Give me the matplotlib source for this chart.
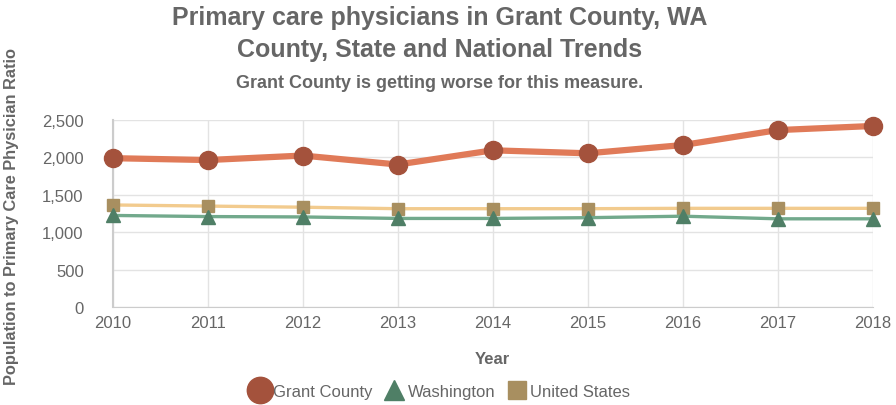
import matplotlib.pyplot as plt
from matplotlib.lines import Line2D

plt.rcParams["font.family"] = ["Liberation Sans", "DejaVu Sans"]

years = [2010, 2011, 2012, 2013, 2014, 2015, 2016, 2017, 2018]
grant = [1990, 1965, 2025, 1905, 2095, 2055, 2165, 2365, 2420]
washington = [1225, 1210, 1205, 1185, 1185, 1195, 1215, 1180, 1180]
united_states = [1365, 1350, 1335, 1315, 1315, 1315, 1320, 1320, 1320]

grey = "#666666"

fig = plt.figure(figsize=(8.96, 4.06), dpi=100)
ax = fig.add_axes([0.126, 0.241, 0.848, 0.461])

ax.plot(years, united_states, color="#F2CB8E", lw=2.4, marker="s", ms=9,
        mfc="#A88F60", mec="#A88F60", zorder=3, clip_on=False)
ax.plot(years, washington, color="#72A98C", lw=2.4, marker="^", ms=10,
        mfc="#4F7F66", mec="#4F7F66", zorder=3, clip_on=False)
ax.plot(years, grant, color="#E07A58", lw=4.5, marker="o", ms=13,
        mfc="#A4523C", mec="#A4523C", zorder=4, clip_on=False)

ax.set_xlim(2010, 2018)
ax.set_ylim(0, 2500)
ax.set_xticks(years)
ax.set_yticks([0, 500, 1000, 1500, 2000, 2500])
ax.set_yticklabels(["0", "500", "1,000", "1,500", "2,000", "2,500"])
ax.grid(True, color="#E3E3E3", lw=1)
ax.set_axisbelow(True)
for s in ["top", "right"]:
    ax.spines[s].set_visible(False)
ax.spines["left"].set_color("#CCCCCC")
ax.spines["left"].set_linewidth(1.5)
ax.spines["bottom"].set_color("#CCCCCC")
ax.tick_params(length=0, labelsize=12, labelcolor=grey)
ax.tick_params(axis="y", pad=21)
ax.tick_params(axis="x", pad=6)
ax.set_xlabel("Year", fontsize=12, fontweight="bold", color=grey)
ax.xaxis.set_label_coords(0.5, -0.235)
ax.set_ylabel("Population to Primary Care Physician Ratio", fontsize=11.8,
              fontweight="bold", color=grey)
ax.yaxis.set_label_coords(-0.123, 0.49)

fig.text(0.491, 0.955, "Primary care physicians in Grant County, WA",
         ha="center", va="center", fontsize=18, fontweight="bold", color=grey)
fig.text(0.491, 0.877, "County, State and National Trends",
         ha="center", va="center", fontsize=18, fontweight="bold", color=grey)
fig.text(0.491, 0.795, "Grant County is getting worse for this measure.",
         ha="center", va="center", fontsize=13, fontweight="bold", color=grey)

handles = [
    Line2D([], [], ls="none", marker="o", ms=19, mfc="#A4523C", mec="#A4523C"),
    Line2D([], [], ls="none", marker="^", ms=15, mfc="#4F7F66", mec="#4F7F66"),
    Line2D([], [], ls="none", marker="s", ms=13, mfc="#A88F60", mec="#A88F60"),
]
fig.legend(handles, ["Grant County", "Washington", "United States"],
           loc="center", bbox_to_anchor=(0.49, 0.033), ncol=3, frameon=False,
           fontsize=12, labelcolor=grey, handletextpad=0.1, columnspacing=0.6,
           handlelength=1.4)

plt.savefig("out.png", dpi=100)
